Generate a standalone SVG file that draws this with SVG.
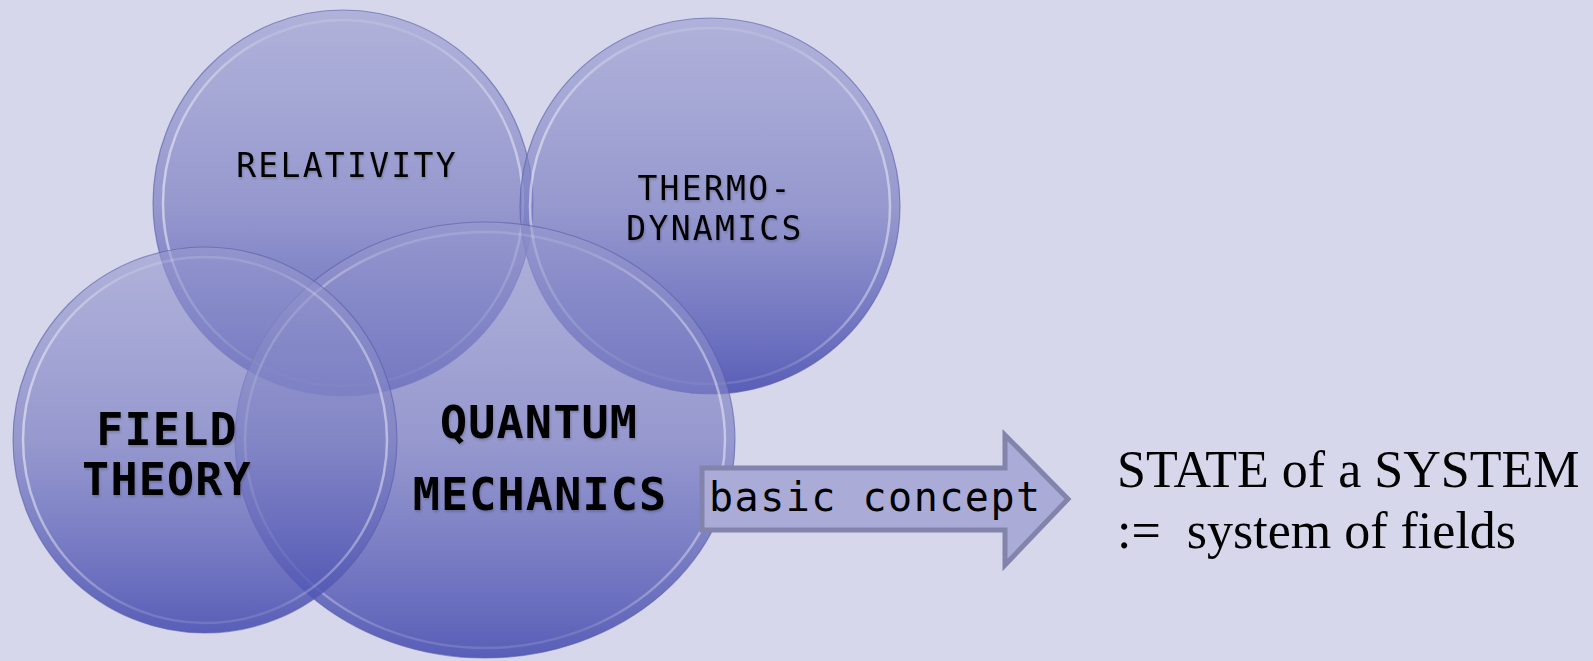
<svg xmlns="http://www.w3.org/2000/svg" width="1593" height="661" viewBox="0 0 1593 661">
  <defs>
    <linearGradient id="fillG" x1="0" y1="0" x2="0" y2="1">
      <stop offset="0" stop-color="#9799cf" stop-opacity="0.6"/>
      <stop offset="0.5" stop-color="#7b7ec2" stop-opacity="0.7"/>
      <stop offset="1" stop-color="#464cb0" stop-opacity="0.87"/>
    </linearGradient>
    <linearGradient id="rimG" x1="0" y1="0" x2="1" y2="0">
      <stop offset="0" stop-color="#ffffff" stop-opacity="0.5"/>
      <stop offset="0.3" stop-color="#ffffff" stop-opacity="0.15"/>
      <stop offset="0.7" stop-color="#ffffff" stop-opacity="0.12"/>
      <stop offset="1" stop-color="#ffffff" stop-opacity="0.45"/>
    </linearGradient>
    <filter id="tshadow" x="-10%" y="-30%" width="120%" height="160%">
      <feDropShadow dx="1" dy="2" stdDeviation="1.2" flood-color="#000" flood-opacity="0.18"/>
    </filter>
  </defs>
  <style>
    .disc { fill: url(#fillG); stroke: #5a5ea6; stroke-opacity: 0.6; stroke-width: 1.2; }
    .rim { fill: none; stroke: url(#rimG); stroke-width: 2.5; }
    .lab { font-family: "DejaVu Sans Mono", monospace; fill: #000; text-anchor: middle; filter: url(#tshadow); }
    .small { font-size: 33px; letter-spacing: 2.3px; }
    .big { font-size: 45px; font-weight: bold; letter-spacing: 1.2px; }
    .arrow { fill: #aaabd7; stroke: #8384ab; stroke-width: 5; stroke-linejoin: miter; }
    .alab { font-family: "DejaVu Sans Mono", monospace; font-size: 40px; letter-spacing: 1.5px; fill: #000; }
    .serif { font-family: "Liberation Serif", "Times New Roman", serif; font-size: 52px; fill: #000; white-space: pre; }
  </style>
  <rect width="1593" height="661" fill="#d6d7eb"/>

  <g id="relativity">
    <ellipse class="disc" cx="343" cy="203" rx="190" ry="193"/>
    <ellipse class="rim" cx="343" cy="203" rx="180" ry="183"/>
    <text class="lab small" x="347" y="177">RELATIVITY</text>
  </g>

  <g id="thermodynamics">
    <ellipse class="disc" cx="710" cy="206" rx="190" ry="188"/>
    <ellipse class="rim" cx="710" cy="206" rx="180" ry="178"/>
    <text class="lab small" x="715" y="200">THERMO-</text>
    <text class="lab small" x="715" y="240">DYNAMICS</text>
  </g>

  <g id="quantum-mechanics">
    <ellipse class="disc" cx="485" cy="440" rx="250" ry="218"/>
    <ellipse class="rim" cx="485" cy="440" rx="240" ry="208"/>
    <text class="lab big" x="539" y="438">QUANTUM</text>
    <text class="lab big" x="540" y="510">MECHANICS</text>
  </g>

  <g id="field-theory">
    <ellipse class="disc" cx="205" cy="440" rx="192" ry="193"/>
    <ellipse class="rim" cx="205" cy="440" rx="182" ry="183"/>
    <text class="lab big" x="167" y="445">FIELD</text>
    <text class="lab big" x="167" y="495">THEORY</text>
  </g>

  <g id="connectors">
    <polygon class="arrow" points="702,468 1005,468 1005,435 1068,499 1005,565 1005,530 702,530"/>
    <text class="alab" x="709" y="511">basic concept</text>
  </g>

  <g id="state-definition">
    <text class="serif" x="1117" y="487">STATE of a SYSTEM</text>
    <text class="serif" x="1117" y="548">:=  system of fields</text>
  </g>
</svg>
